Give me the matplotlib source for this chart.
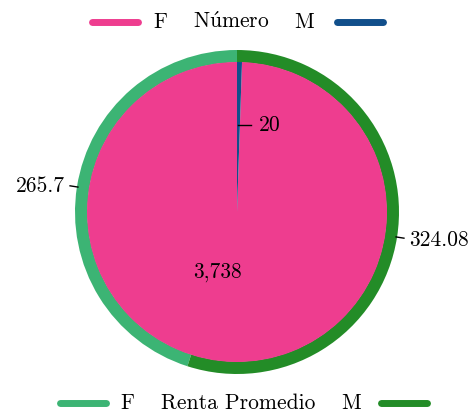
import matplotlib
matplotlib.use("Agg")
import matplotlib.pyplot as plt
from matplotlib.lines import Line2D
import numpy as np

plt.rcParams['font.family'] = ['cmr10', 'DejaVu Serif']
plt.rcParams['mathtext.fontset'] = 'cm'
plt.rcParams['axes.formatter.use_mathtext'] = True

# data
sexes = ["F", "M"]
numero = [3738, 20]
renta = [265.7, 324.08]
numero_labels = ["3,738", "20"]
renta_labels = ["265.7", "324.08"]
titles = [r"N$\acute{\mathrm{u}}$mero", "Renta Promedio"]

inner_colors = ["#ee3d8f", "#114f8b"]
outer_colors = ["#3cb474", "#238c27"]

fig = plt.figure(figsize=(4.75, 4.12), dpi=100)
ax = fig.add_axes([0, 0, 1, 1])

cx, cy = 237, 200
r_out = 162
r_in = 150
fs = 15.5

# outer ring = renta promedio
ax.pie(renta, colors=outer_colors, startangle=90, counterclock=True,
       radius=r_out, center=(cx, cy), wedgeprops=dict(width=12.5, linewidth=0))
# inner pie = numero
ax.pie(numero, colors=inner_colors, startangle=90, counterclock=True,
       radius=r_in, center=(cx, cy), wedgeprops=dict(linewidth=0))
ax.set_xlim(0, 475)
ax.set_ylim(0, 412)
ax.set_aspect('auto')
ax.axis('off')

# outer labels at mid angles with short leader lines
tot = sum(renta)
start = 90.0
for val, lab in zip(renta, renta_labels):
    ang = np.deg2rad(start + 180 * val / tot)
    start += 360 * val / tot
    x0 = cx + (r_out - 1) * np.cos(ang)
    y0 = cy + (r_out - 1) * np.sin(ang)
    x1 = cx + (r_out + 7) * np.cos(ang)
    y1 = cy + (r_out + 7) * np.sin(ang)
    ax.plot([x0, x1], [y0, y1], color='black', lw=1)
    if np.cos(ang) < 0:
        ax.text(x1 - 5, y1, lab, ha='right', va='center', fontsize=fs)
    else:
        ax.text(x1 + 5, y1 - 2, lab, ha='left', va='center', fontsize=fs)

# inner labels
tot = sum(numero)
ang_m = np.deg2rad(90 - 180 * numero[1] / tot)
xm = cx + 0.58 * r_in * np.cos(ang_m)
ym = cy + 0.58 * r_in * np.sin(ang_m)
ax.plot([xm, xm + 13], [ym, ym], color='black', lw=1)
ax.text(xm + 20, ym, numero_labels[1], ha='left', va='center', fontsize=fs)

ang_f = np.deg2rad(252)
ax.text(cx + 63 * np.cos(ang_f), cy + 63 * np.sin(ang_f), numero_labels[0],
        ha='center', va='center', fontsize=fs)

# legends built by hand: line, F, title, M, line
def legend_row(y, title, cols, xs):
    lx1, fx, tx, mx, lx2 = xs
    ax.add_line(Line2D([lx1, lx1 + 46], [y, y], color=cols[0], lw=5, solid_capstyle='round'))
    ax.text(fx, y, sexes[0], ha='center', va='center', fontsize=fs)
    ax.text(tx, y, title, ha='center', va='center', fontsize=fs)
    ax.text(mx, y, sexes[1], ha='center', va='center', fontsize=fs)
    ax.add_line(Line2D([lx2, lx2 + 46], [y, y], color=cols[1], lw=5, solid_capstyle='round'))

legend_row(412 - 22, titles[0], inner_colors, (92, 160, 231, 304, 337))
legend_row(412 - 403, titles[1], outer_colors, (60, 127, 238, 351, 381))

fig.savefig("out.png", dpi=100)
